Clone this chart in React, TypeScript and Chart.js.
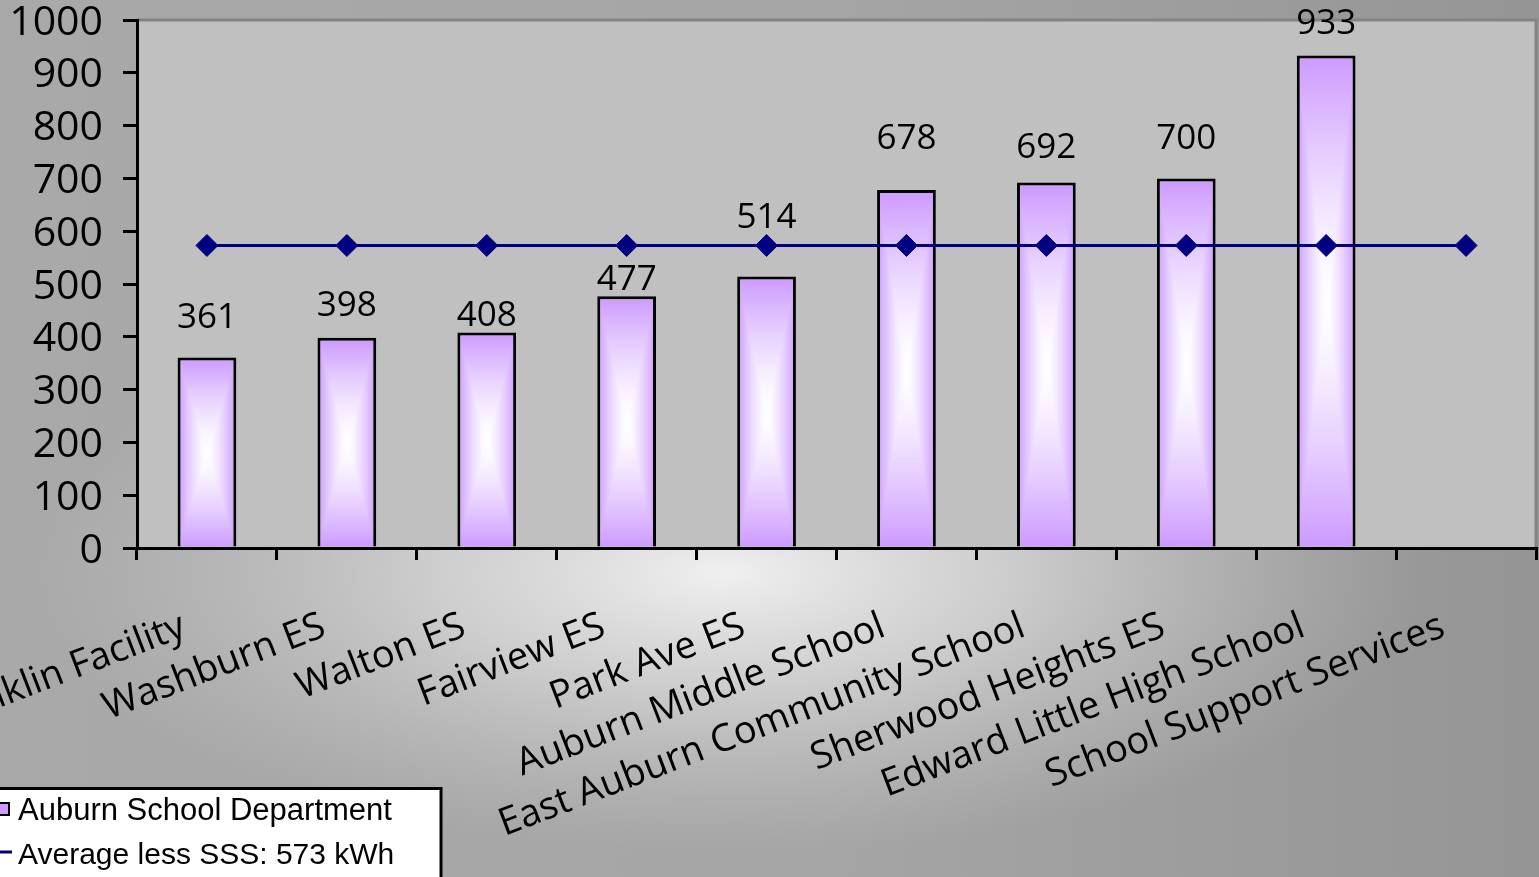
import React, { useEffect, useRef } from "react";
import { Chart, registerables } from "chart.js";

Chart.register(...registerables);

// ---------- data ----------
const categories: string[] = [
  "Franklin Facility",
  "Washburn ES",
  "Walton ES",
  "Fairview ES",
  "Park Ave ES",
  "Auburn Middle School",
  "East Auburn Community School",
  "Sherwood Heights ES",
  "Edward Little High School",
  "School Support Services",
];
const usageKWh: (number | null)[] = [361, 398, 408, 477, 514, 678, 692, 700, 933, null];
const averageKWh: number[] = [573, 573, 573, 573, 573, 573, 573, 573, 573, 573];
const barSeriesName = "Auburn School Department";
const lineSeriesName = "Average less SSS: 573 kWh";
const yMin = 0;
const yMax = 1000;
const yStep = 100;
// vertical gap (px) between bar top and its value label baseline
const valueLabelGaps: number[] = [29, 22, 7, 6, 49, 41, 25, 29, 21];

// ---------- styles ----------
const BAR_PCT = 0.42;
const PURPLE = [204, 153, 255];
const NAVY = "#000080";
const TEXT_FONT = "'Open Sans', 'Noto Sans', sans-serif";
const LEGEND_FONT = "'Liberation Sans', Arial, sans-serif";

function makeBarPattern(ctx: CanvasRenderingContext2D, w: number, h: number, left: number, top: number) {
  const W = Math.max(1, Math.round(w));
  const H = Math.max(1, Math.round(h));
  const off = document.createElement("canvas");
  off.width = W;
  off.height = H;
  const o = off.getContext("2d")!;
  const img = o.createImageData(W, H);
  const hw = W / 2;
  const hh = H / 2;
  for (let y = 0; y < H; y++) {
    for (let x = 0; x < W; x++) {
      const t = Math.min(1, Math.max(Math.abs(x + 0.5 - hw) / hw, Math.abs(y + 0.5 - hh) / hh));
      const k = Math.pow(t, 1.4);
      const i = (y * W + x) * 4;
      img.data[i] = 255 + (PURPLE[0] - 255) * k;
      img.data[i + 1] = 255 + (PURPLE[1] - 255) * k;
      img.data[i + 2] = 255 + (PURPLE[2] - 255) * k;
      img.data[i + 3] = 255;
    }
  }
  o.putImageData(img, 0, 0);
  const p = ctx.createPattern(off, "no-repeat")!;
  p.setTransform(new DOMMatrix([1, 0, 0, 1, left, top]));
  return p;
}

const backgroundPlugin = {
  id: "bgPlugin",
  beforeDraw(chart: any) {
    const { ctx, width, height, chartArea: a } = chart;
    ctx.save();
    const lin = ctx.createLinearGradient(0, 0, width, 0);
    lin.addColorStop(0, "#a9a9a9");
    lin.addColorStop(0.55, "#a5a5a5");
    lin.addColorStop(1, "#959595");
    ctx.fillStyle = lin;
    ctx.fillRect(0, 0, width, height);

    ctx.save();
    ctx.translate(a.left + (a.right - a.left) * 0.42, a.bottom + 25);
    ctx.scale(1, 0.4);
    const rg = ctx.createRadialGradient(0, 0, 0, 0, 0, 700);
    rg.addColorStop(0, "rgba(240,240,240,1)");
    rg.addColorStop(0.4, "rgba(222,222,222,0.72)");
    rg.addColorStop(1, "rgba(200,200,200,0)");
    ctx.fillStyle = rg;
    ctx.fillRect(-3000, -4000, 6000, 8000);
    ctx.restore();

    ctx.fillStyle = "#c0c0c0";
    ctx.fillRect(a.left, a.top, a.right - a.left, a.bottom - a.top);
    ctx.strokeStyle = "#838383";
    ctx.lineWidth = 3;
    ctx.beginPath();
    ctx.moveTo(a.left, a.top);
    ctx.lineTo(a.right, a.top);
    ctx.lineTo(a.right, a.bottom);
    ctx.stroke();
    ctx.restore();
  },
};

const valueLabelPlugin = {
  id: "valueLabels",
  afterDatasetsDraw(chart: any) {
    const { ctx } = chart;
    const meta = chart.getDatasetMeta(0);
    const data = chart.data.datasets[0].data as (number | null)[];
    ctx.save();
    ctx.font = `35px ${TEXT_FONT}`;
    ctx.fillStyle = "#000";
    ctx.textAlign = "center";
    ctx.textBaseline = "alphabetic";
    meta.data.forEach((el: any, i: number) => {
      const v = data[i];
      if (v == null) return;
      ctx.fillText(String(v), el.x, el.y - (valueLabelGaps[i] ?? 20));
    });
    ctx.restore();
  },
};

const legendPlugin = {
  id: "boxLegend",
  afterDraw(chart: any) {
    const { ctx } = chart;
    const ds = chart.data.datasets;
    ctx.save();
    ctx.fillStyle = "#ffffff";
    ctx.fillRect(-10, 787, 452, 200);
    ctx.strokeStyle = "#000";
    ctx.lineWidth = 3;
    ctx.strokeRect(-10, 788.5, 451, 200);

    ctx.font = `31px ${LEGEND_FONT}`;
    ctx.textAlign = "left";
    ctx.textBaseline = "alphabetic";

    // bar item
    ctx.fillStyle = "#cc99ff";
    ctx.fillRect(-2, 803, 11, 12);
    ctx.strokeStyle = "#000";
    ctx.lineWidth = 2;
    ctx.strokeRect(-2, 803, 11, 12);
    ctx.fillStyle = "#000";
    ctx.fillText(ds[0].label, 18, 820);

    // line item
    ctx.strokeStyle = NAVY;
    ctx.lineWidth = 3;
    ctx.beginPath();
    ctx.moveTo(-4, 852);
    ctx.lineTo(12, 852);
    ctx.stroke();
    ctx.fillStyle = "#000";
    ctx.font = `30px ${LEGEND_FONT}`;
    ctx.fillText(ds[1].label, 18, 864);
    ctx.restore();
  },
};

export default function App() {
  const canvasRef = useRef<HTMLCanvasElement | null>(null);

  useEffect(() => {
    const canvas = canvasRef.current;
    if (!canvas) return;

    const chart = new Chart(canvas, {
      type: "bar",
      data: {
        labels: categories,
        datasets: [
          {
            type: "bar",
            label: barSeriesName,
            data: usageKWh,
            order: 1,
            barPercentage: BAR_PCT,
            categoryPercentage: 1,
            borderColor: "#000",
            borderWidth: 3,
            backgroundColor: (c: any) => {
              const chartI = c.chart;
              const xs = chartI.scales?.x;
              const ys = chartI.scales?.y;
              const v = c.raw;
              if (!xs || !ys || c.type !== "data" || v == null || !xs.width) return "#cc99ff";
              const cx = xs.getPixelForValue(c.dataIndex);
              const w = (xs.width / categories.length) * BAR_PCT;
              const top = ys.getPixelForValue(v);
              const bottom = ys.getPixelForValue(0);
              return makeBarPattern(chartI.ctx, w, bottom - top, cx - w / 2, top);
            },
          } as any,
          {
            type: "line",
            label: lineSeriesName,
            data: averageKWh,
            order: 0,
            borderColor: NAVY,
            borderWidth: 3,
            pointStyle: "rectRot",
            pointRadius: 11,
            pointBackgroundColor: NAVY,
            pointBorderColor: NAVY,
            pointBorderWidth: 1,
            tension: 0,
          } as any,
        ],
      },
      options: {
        animation: false,
        responsive: true,
        maintainAspectRatio: false,
        layout: { autoPadding: false, padding: { top: 20, right: 3, left: 0, bottom: 0 } },
        plugins: {
          legend: { display: false },
          tooltip: { enabled: false },
          title: { display: false },
        },
        scales: {
          x: {
            type: "category",
            offset: true,
            grid: {
              offset: true,
              drawOnChartArea: false,
              drawTicks: true,
              tickLength: 12,
              lineWidth: 3,
              color: "#000",
            },
            border: { display: true, color: "#000", width: 3 },
            ticks: {
              autoSkip: false,
              maxRotation: 21,
              minRotation: 21,
              padding: 44,
              labelOffset: -23,
              color: "#000",
              font: { family: TEXT_FONT, size: 38 },
            },
            afterFit: (scale: any) => {
              scale.height = 329;
              scale.paddingLeft = 0;
              scale.paddingRight = 0;
            },
          },
          y: {
            min: yMin,
            max: yMax,
            grid: {
              drawOnChartArea: false,
              drawTicks: true,
              tickLength: 14,
              lineWidth: 3,
              color: "#000",
            },
            border: { display: true, color: "#000", width: 3 },
            ticks: {
              stepSize: yStep,
              padding: 20,
              labelOffset: 3,
              color: "#000",
              font: { family: TEXT_FONT, size: 41 },
              callback: (v: any) => String(v),
            },
            afterFit: (scale: any) => {
              scale.width = 137;
              scale.paddingTop = 0;
              scale.paddingBottom = 0;
            },
          },
        },
      },
      plugins: [backgroundPlugin, valueLabelPlugin, legendPlugin],
    });

    return () => chart.destroy();
  }, []);

  return (
    <div style={{ position: "absolute", left: 0, top: 0, width: 1539, height: 877 }}>
      <canvas ref={canvasRef} />
    </div>
  );
}
